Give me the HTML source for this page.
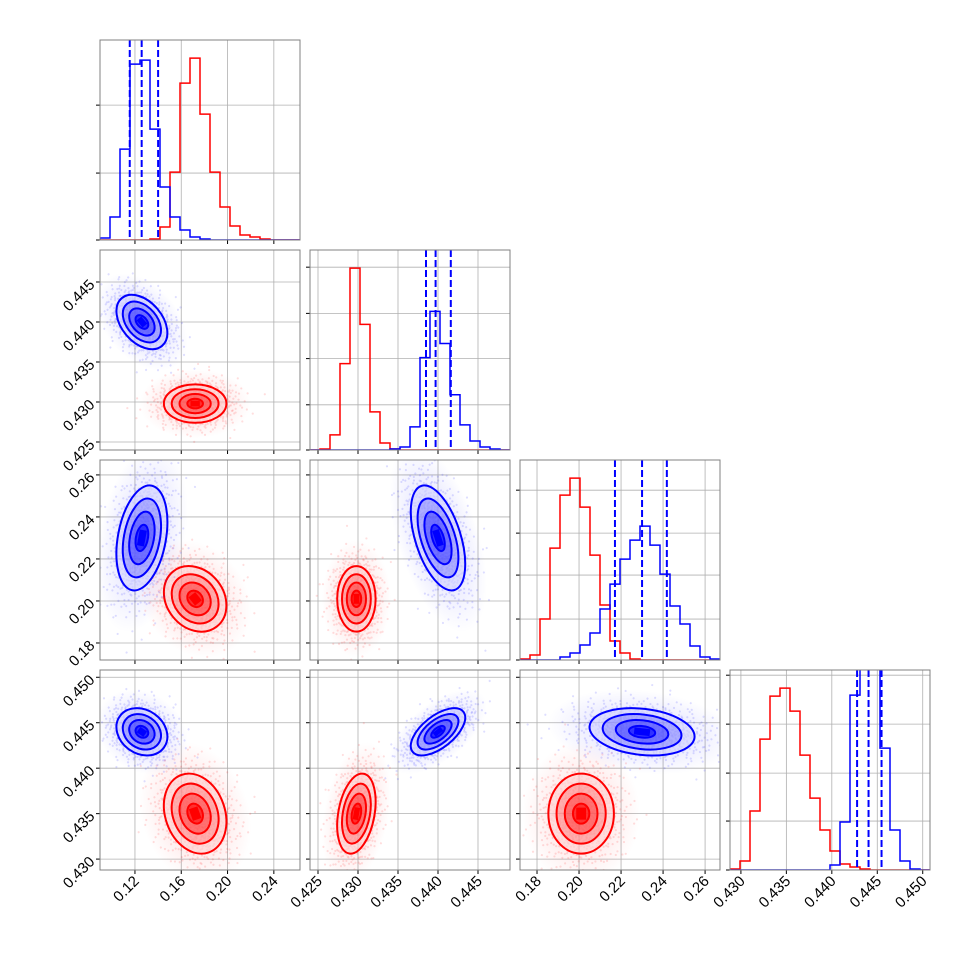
<!DOCTYPE html>
<html><head><meta charset="utf-8">
<style>
body{margin:0;background:#fff;}
svg{display:block;font-family:"Liberation Sans","DejaVu Sans",sans-serif;}
</style></head>
<body>
<svg id="chart" width="970" height="970" viewBox="0 0 970 970"></svg>
<script>
// ---- data ----
const paramLo = [0.0898, 0.4240, 0.1719, 0.4288];
const paramHi = [0.2626, 0.4490, 0.2671, 0.4508];
const xTickVals = [[0.12,0.16,0.20,0.24],[0.425,0.430,0.435,0.440,0.445],[0.18,0.20,0.22,0.24,0.26],[0.430,0.435,0.440,0.445,0.450]];
const xTickLabels = [["0.12","0.16","0.20","0.24"],["0.425","0.430","0.435","0.440","0.445"],["0.18","0.20","0.22","0.24","0.26"],["0.430","0.435","0.440","0.445","0.450"]];
const histRed = [
 [0,0,0,0,0,1,13,68,157,182,126,68,33,14,5,3,1,0,0,0],
 [0,1,15,86,181,125,38,7,1,0,0,0,0,0,0,0,0,0,0,0],
 [1,5,41,112,165,182,153,105,55,19,7,1,0,0,0,0,0,0,0,0],
 [1,9,59,131,174,182,159,115,72,40,19,6,3,1,0,0,0,0,0,0]];
const histBlue = [
 [2,23,91,176,180,111,53,23,10,3,1,0,0,0,0,0,0,0,0,0],
 [0,0,0,0,0,0,0,0,1,3,23,92,138,106,55,25,9,3,1,0],
 [0,0,0,0,3,7,15,27,51,76,101,120,134,115,86,54,36,14,3,1],
 [0,0,0,0,0,0,0,0,0,0,5,48,175,240,230,122,40,9,1,0]];
const histCountTicks = [[0,67,135],[0,45,91,136,182],[0,41,85,127,170],[0,49,97,146,195]];
const blueQuantiles = [[0.1155,0.1258,0.1400],[0.4385,0.4397,0.4416],[0.2171,0.2300,0.2418],[0.44278,0.44404,0.44547]];
const blueMean = [0.126, 0.4400, 0.2300, 0.4440];
const blueSd   = [0.011, 0.0017, 0.0125, 0.0013];
const redMean  = [0.172, 0.4298, 0.2010, 0.4350];
const redSd    = [0.0135, 0.0012, 0.0078, 0.0022];
const blueCorr = {"10":-0.4,"20":0.3,"21":-0.5,"30":-0.2,"31":0.6,"32":-0.2};
const redCorr  = {"10":0.0,"20":-0.2,"21":0.0,"30":-0.2,"31":0.3,"32":0.0};
const sigmaLevels = [2,1.5,1,0.5];

// ---- drawing ----
const NS="http://www.w3.org/2000/svg";
const svg=document.getElementById('chart');
function mk(tag,attrs,parent){const e=document.createElementNS(NS,tag);for(const k in attrs)e.setAttribute(k,attrs[k]);(parent||svg).appendChild(e);return e;}
const S=200;
function px0(j){return 100+210*j;}
function py0(i){return 40+210*i;}
function sx(j,v){return px0(j)+(v-paramLo[j])/(paramHi[j]-paramLo[j])*S;}
function sy(i,v){return py0(i)+S-(v-paramLo[i])/(paramHi[i]-paramLo[i])*S;}

const defs=mk('defs',{});
[['blue','0,0,255'],['red','255,0,0']].forEach(([n,c])=>{
  const g=mk('radialGradient',{id:'halo-'+n},defs);
  mk('stop',{offset:'0%','stop-color':`rgb(${c})`,'stop-opacity':'0.2'},g);
  mk('stop',{offset:'55%','stop-color':`rgb(${c})`,'stop-opacity':'0.07'},g);
  mk('stop',{offset:'100%','stop-color':`rgb(${c})`,'stop-opacity':'0'},g);
});

function halton(i,b){let f=1,r=0;while(i>0){f/=b;r+=f*(i%b);i=Math.floor(i/b);}return r;}

for(let i=0;i<4;i++){
  for(let j=0;j<=i;j++){
    const g=mk('g',{});
    
    
    const x0=px0(j),y0=py0(i);
    const clipId='clip'+i+j;
    const cp=mk('clipPath',{id:clipId},defs);
    mk('rect',{x:x0,y:y0,width:S,height:S},cp);
    const inner=mk('g',{'clip-path':`url(#${clipId})`},g);
    xTickVals[j].forEach(v=>{const x=sx(j,v);mk('line',{x1:x,x2:x,y1:y0,y2:y0+S,stroke:'#b0b0b0','stroke-width':0.8},inner);});
    if(i===j){
      const ymax=1.1*Math.max(...histRed[i]);
      histCountTicks[i].forEach(c=>{const y=y0+S-c/ymax*S;mk('line',{x1:x0,x2:x0+S,y1:y,y2:y,stroke:'#b0b0b0','stroke-width':0.8},inner);});
      const bw=S/20;
      [[histRed[i],'#ff0000','red'],[histBlue[i],'#0000ff','blue']].forEach(([h,col,nm])=>{
        let d=`M${x0},${y0+S}`;
        h.forEach((c,k)=>{const y=y0+S-c/ymax*S;d+=` L${x0+k*bw},${y} L${x0+(k+1)*bw},${y}`;});
        d+=` L${x0+S},${y0+S}`;
        const p=mk('path',{d:d,fill:'none',stroke:col,'stroke-width':1.5},inner);
        
        
      });
      blueQuantiles[i].forEach(q=>{const x=sx(j,q);const l=mk('line',{x1:x,x2:x,y1:y0,y2:y0+S,stroke:'#0000ff','stroke-width':2,'stroke-dasharray':'7,3'},inner);
        
        });
      histCountTicks[i].forEach(c=>{const y=y0+S-c/ymax*S;mk('line',{x1:x0-4,x2:x0,y1:y,y2:y,stroke:'#000','stroke-width':1},g);});
    } else {
      xTickVals[i].forEach(v=>{const y=sy(i,v);mk('line',{x1:x0,x2:x0+S,y1:y,y2:y,stroke:'#b0b0b0','stroke-width':0.8},inner);});
      [[redMean,redSd,redCorr,'255,0,0','red'],[blueMean,blueSd,blueCorr,'0,0,255','blue']].forEach(([m,s,cr,rgb,nm])=>{
        const cx=sx(j,m[j]),cy=sy(i,m[i]);
        const ax=s[j]/(paramHi[j]-paramLo[j])*S, ay=s[i]/(paramHi[i]-paramLo[i])*S;
        const rho=cr[''+i+j];
        const a=ax*ax,b=ay*ay,c=-rho*ax*ay;
        const th=0.5*Math.atan2(2*c,a-b)*180/Math.PI;
        const mid=(a+b)/2,dd=Math.sqrt(((a-b)/2)**2+c*c);
        const r1=Math.sqrt(mid+dd),r2=Math.sqrt(Math.max(mid-dd,1e-6));
        const cg=mk('g',{transform:`translate(${cx},${cy}) rotate(${th})`},inner);
        
        
        mk('ellipse',{cx:0,cy:0,rx:r1*3.6,ry:r2*3.6,fill:`url(#halo-${nm})`},cg);
        const N=900;
        for(let k=1;k<=N;k++){
          const u1=halton(k,2)*0.9995+0.0003,u2=halton(k,3);
          const r=Math.sqrt(-2*Math.log(u1))*1.25,t=2*Math.PI*u2;
          mk('circle',{cx:r*Math.cos(t)*r1,cy:r*Math.sin(t)*r2,r:1.1,fill:`rgba(${rgb},0.13)`},cg);
        }
        mk('ellipse',{cx:0,cy:0,rx:r1*2.05,ry:r2*2.05,fill:'rgba(255,255,255,0.6)'},cg);
        const fills=[0.1,0.2,0.33,0.55];
        sigmaLevels.forEach((k,idx)=>{
          const e=mk('ellipse',{cx:0,cy:0,rx:r1*k,ry:r2*k,fill:`rgba(${rgb},${fills[idx]})`,stroke:`rgb(${rgb})`,'stroke-width':2},cg);
          
          
        });
        mk('rect',{x:-r1*0.3,y:-r2*0.3,width:r1*0.6,height:r2*0.6,fill:`rgb(${rgb})`},cg);
      });
      xTickVals[i].forEach(v=>{const y=sy(i,v);mk('line',{x1:x0-4,x2:x0,y1:y,y2:y,stroke:'#000','stroke-width':1},g);});
      if(j===0){
        xTickVals[i].forEach((v,k)=>{const y=sy(i,v);const t=mk('text',{x:x0-8,y:y+5,'text-anchor':'end','font-size':15,transform:`rotate(-45 ${x0-8} ${y})`},g);t.textContent=xTickLabels[i][k];
          
          });
      }
    }
    xTickVals[j].forEach(v=>{const x=sx(j,v);mk('line',{x1:x,x2:x,y1:y0+S,y2:y0+S+4,stroke:'#000','stroke-width':1},g);});
    if(i===3){
      xTickVals[j].forEach((v,k)=>{const x=sx(j,v);const t=mk('text',{x:x+5,y:y0+S+12,'text-anchor':'end','font-size':15,transform:`rotate(-45 ${x+5} ${y0+S+12})`},g);t.textContent=xTickLabels[j][k];
        
        });
    }
    mk('rect',{x:x0,y:y0,width:S,height:S,fill:'none',stroke:'#808080','stroke-width':1},g);
  }
}
</script>
</body></html>
